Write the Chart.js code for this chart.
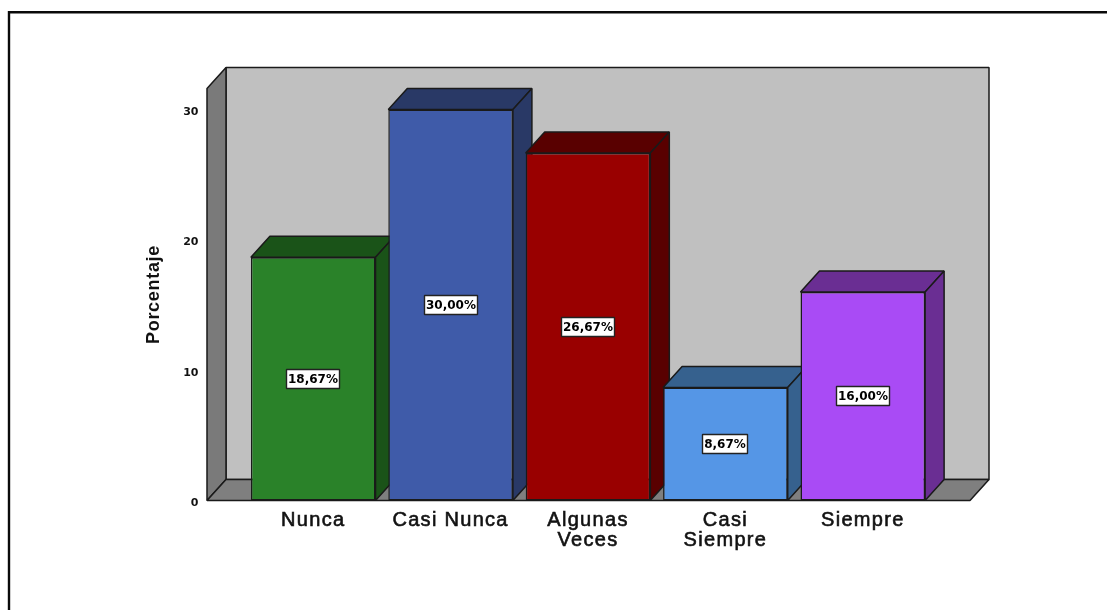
<!DOCTYPE html>
<html>
<head>
<meta charset="utf-8">
<style>html,body{margin:0;padding:0;background:#fff;overflow:hidden}canvas{display:block}</style>
<script src="https://cdn.jsdelivr.net/npm/chart.js@4"></script>
</head>
<body>
<canvas id="c" width="1107" height="610"></canvas>
<script>
const categories = [['Nunca'], ['Casi Nunca'], ['Algunas', 'Veces'], ['Casi', 'Siempre'], ['Siempre']];
const porcentaje = [18.67, 30.00, 26.67, 8.67, 16.00];
const frontColors = ['#2a8229', '#3f5ba9', '#990000', '#5596e6', '#a94bf5'];
const sideColors = ['#1a5318', '#293966', '#590000', '#36618e', '#6a2e93'];
const yTicks = [0, 10, 20, 30];
const yTitle = 'Porcentaje';

const DX = 19, DY = 21, WALL_L = 37.5, WALL_R = 38.5, EDGE = '#1a1a1a';

function poly(ctx, pts, fill, lw) {
  ctx.beginPath();
  pts.forEach((p, i) => i ? ctx.lineTo(p[0], p[1]) : ctx.moveTo(p[0], p[1]));
  ctx.closePath();
  ctx.fillStyle = fill; ctx.fill();
  ctx.lineWidth = lw || 1.5; ctx.strokeStyle = EDGE; ctx.lineJoin = 'bevel'; ctx.stroke();
}

function wrapLabels(s, ctx, spacing, dy) {
  const o = s.drawLabels;
  s.drawLabels = function (a) {
    ctx.save();
    ctx.letterSpacing = spacing;
    ctx.translate(0, dy);
    o.call(s, a);
    ctx.restore();
  };
}

const box3d = {
  id: 'box3d',
  afterLayout(chart) {
    const ctx = chart.ctx, ys = chart.scales.y, xs = chart.scales.x;
    if (ys._wrapped) return;
    ys._wrapped = true;
    wrapLabels(ys, ctx, '0px', 2.5);
    wrapLabels(xs, ctx, '1.3px', 0);
  },
  beforeDraw(chart) {
    const ctx = chart.ctx;
    ctx.fillStyle = '#fff'; ctx.fillRect(0, 0, chart.width, chart.height);
    ctx.strokeStyle = '#0a0a0a'; ctx.lineWidth = 2.4;
    ctx.beginPath(); ctx.moveTo(9, 610); ctx.lineTo(9, 12.2); ctx.lineTo(1107, 12.2); ctx.stroke();
    ctx.letterSpacing = '0.7px';
  },
  beforeDatasetsDraw(chart) {
    const ctx = chart.ctx, a = chart.chartArea;
    const L = a.left - WALL_L, R = a.right + WALL_R, T = a.top, B = a.bottom;
    poly(ctx, [[L + DX, T - DY], [R + DX, T - DY], [R + DX, B - DY], [L + DX, B - DY]], '#c0c0c0');
    poly(ctx, [[L, T], [L + DX, T - DY], [L + DX, B - DY], [L, B]], '#7a7a7a');
    poly(ctx, [[L, B], [L + DX, B - DY], [R + DX, B - DY], [R, B]], '#7f7f7f');
    chart.getDatasetMeta(0).data.forEach((el, i) => {
      const x0 = el.x - el.width / 2, x1 = el.x + el.width / 2, y = el.y, b = el.base;
      poly(ctx, [[x0, y], [x0 + DX, y - DY], [x1 + DX, y - DY], [x1, y]], sideColors[i]);
      poly(ctx, [[x1, y], [x1 + DX, y - DY], [x1 + DX, b - DY], [x1, b]], sideColors[i]);
    });
  },
  afterDatasetsDraw(chart) {
    const ctx = chart.ctx;
    ctx.save();
    ctx.letterSpacing = '0px';
    ctx.font = 'bold 12px "DejaVu Sans"';
    ctx.textAlign = 'center'; ctx.textBaseline = 'middle';
    chart.getDatasetMeta(0).data.forEach((el, i) => {
      const txt = porcentaje[i].toFixed(2).replace('.', ',') + '%';
      const w = Math.round(ctx.measureText(txt).width) + 3, h = 19;
      const cy = Math.round((el.y + el.base) / 2), cx = Math.round(el.x);
      ctx.fillStyle = '#fff'; ctx.strokeStyle = '#222'; ctx.lineWidth = 1.4;
      ctx.fillRect(cx - w / 2, cy - h / 2, w, h);
      ctx.strokeRect(cx - w / 2, cy - h / 2, w, h);
      ctx.fillStyle = '#000';
      ctx.fillText(txt, cx, cy + 0.5);
    });
    ctx.restore();
  }
};

new Chart(document.getElementById('c'), {
  type: 'bar',
  data: {
    labels: categories,
    datasets: [{
      data: porcentaje,
      backgroundColor: frontColors,
      borderColor: EDGE,
      borderWidth: 1.5,
      borderSkipped: false,
      categoryPercentage: 1,
      barPercentage: 0.907
    }]
  },
  options: {
    responsive: false,
    animation: false,
    events: [],
    layout: { padding: { top: 88.5, right: 175.5, left: 0, bottom: 0 } },
    plugins: { legend: { display: false }, tooltip: { enabled: false } },
    scales: {
      x: {
        afterFit(s) { s.height = 109.5; },
        grid: { display: false, drawTicks: false },
        border: { display: false },
        ticks: {
          color: '#111', padding: 10, autoSkip: false, maxRotation: 0,
          textStrokeColor: '#111', textStrokeWidth: 0.6,
          font: { family: '"Liberation Sans"', size: 20, lineHeight: 1 }
        }
      },
      y: {
        min: 0, max: 31.62,
        afterFit(s) { s.width = 244.5; },
        afterBuildTicks(s) { s.ticks = yTicks.map(v => ({ value: v })); },
        grid: { display: false, drawTicks: false },
        border: { display: false },
        ticks: {
          color: '#111', padding: 46,
          font: { family: '"DejaVu Sans"', size: 11, weight: 'bold' }
        },
        title: {
          display: true, text: yTitle, color: '#111',
          padding: { top: 145, bottom: 0 },
          font: { family: '"Liberation Sans"', size: 18, weight: 'bold', lineHeight: 1 }
        }
      }
    }
  },
  plugins: [box3d]
});
</script>
</body>
</html>
